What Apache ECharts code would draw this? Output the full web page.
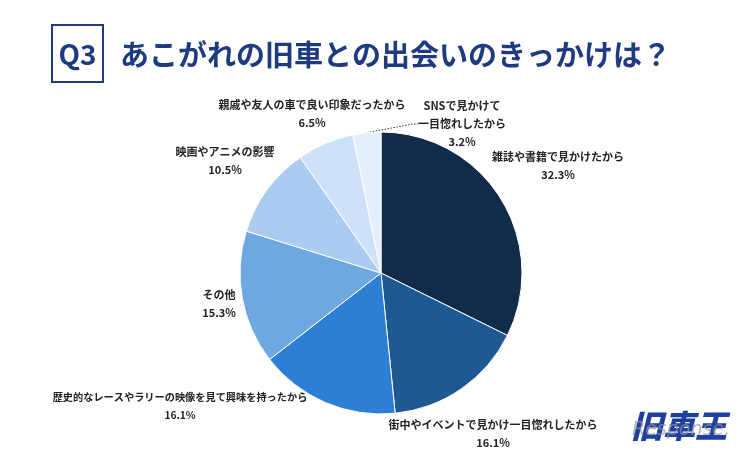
<!DOCTYPE html>
<html>
<head>
<meta charset="utf-8">
<script src="https://cdn.jsdelivr.net/npm/echarts@6/dist/echarts.min.js"></script>
<style>
  html, body { margin:0; padding:0; background:#ffffff; }
  #chart { width:750px; height:450px; }
</style>
</head>
<body>
<div id="chart"></div>
<script>
// ---- data ----
const categories = [
  '雑誌や書籍で見かけたから',
  '街中やイベントで見かけ一目惚れしたから',
  '歴史的なレースやラリーの映像を見て興味を持ったから',
  'その他',
  '映画やアニメの影響',
  '親戚や友人の車で良い印象だったから',
  'SNSで見かけて\n一目惚れしたから'
];
const values = [32.3, 16.1, 16.1, 15.3, 10.5, 6.5, 3.2];
const titleText = 'あこがれの旧車との出会いのきっかけは？';
const qLabel = 'Q3';

// ---- style / layout (kept separate from data) ----
const colors = ['#112b4a', '#1f5993', '#2d7fd5', '#6fa8e1', '#a9ccf0', '#cde2f8', '#e5effb'];
const labelPos = [[558,166],[493,434],[180,406],[219,304],[225,161],[312,114],[462,124]];
const labelSize = [11, 11, 10.2, 11, 11, 11, 11];
const FONT = '"Noto Sans CJK JP", "Noto Sans", sans-serif';

const chart = echarts.init(document.getElementById('chart'), null, {renderer:'canvas'});
const data = categories.map((n, i) => ({
  name: n, value: values[i],
  itemStyle: { color: colors[i] },
  label: { fontSize: labelSize[i] },
  labelLine: { show: i === 6, lineStyle: { color: '#333', width: 1, type: [1.5, 1.5] } }
}));

chart.setOption({
  backgroundColor: '#ffffff',
  animation: false,
  graphic: [
    { type:'rect', shape:{x:52, y:25, width:51, height:57},
      style:{ fill:'none', stroke:'#1f3b80', lineWidth:2 } },
    { type:'text', x:77.5, y:54, style:{ text:qLabel, fill:'#1f3b80', font:'bold 28px ' + FONT,
      textAlign:'center', textVerticalAlign:'middle' } },
    { type:'text', x:120, y:55, style:{ text:titleText, fill:'#1f3b80', font:'bold 29px ' + FONT,
      textAlign:'left', textVerticalAlign:'middle' } },
    { type:'text', x:679, y:426, style:{ text:'旧車王', fill:'#1e3ea0', font:'italic 900 32px ' + FONT,
      textAlign:'center', textVerticalAlign:'middle' } },
    { type:'text', x:681, y:430, style:{ text:'Response.', fill:'rgba(150,150,160,0.7)', font:'italic 19px "DejaVu Sans", sans-serif',
      textAlign:'center', textVerticalAlign:'middle' } }
  ],
  series: [{
    type: 'pie',
    center: [381, 273],
    radius: 141,
    startAngle: 90,
    clockwise: true,
    data: data,
    itemStyle: { borderColor: '#ffffff', borderWidth: 1 },
    label: {
      show: true,
      position: 'outside',
      formatter: p => p.name + '\n' + p.value.toFixed(1) + '%',
      color: '#222222',
      fontFamily: FONT,
      fontWeight: 'bold',
      fontSize: 11,
      lineHeight: 18,
      align: 'center'
    },
    labelLine: { show: false, length: 5, length2: 5 },
    labelLayout: function (params) {
      const p = labelPos[params.dataIndex];
      return { x: p[0], y: p[1], align: 'center', verticalAlign: 'middle', hideOverlap: false };
    },
    emphasis: { disabled: true }
  }]
});
</script>
</body>
</html>
